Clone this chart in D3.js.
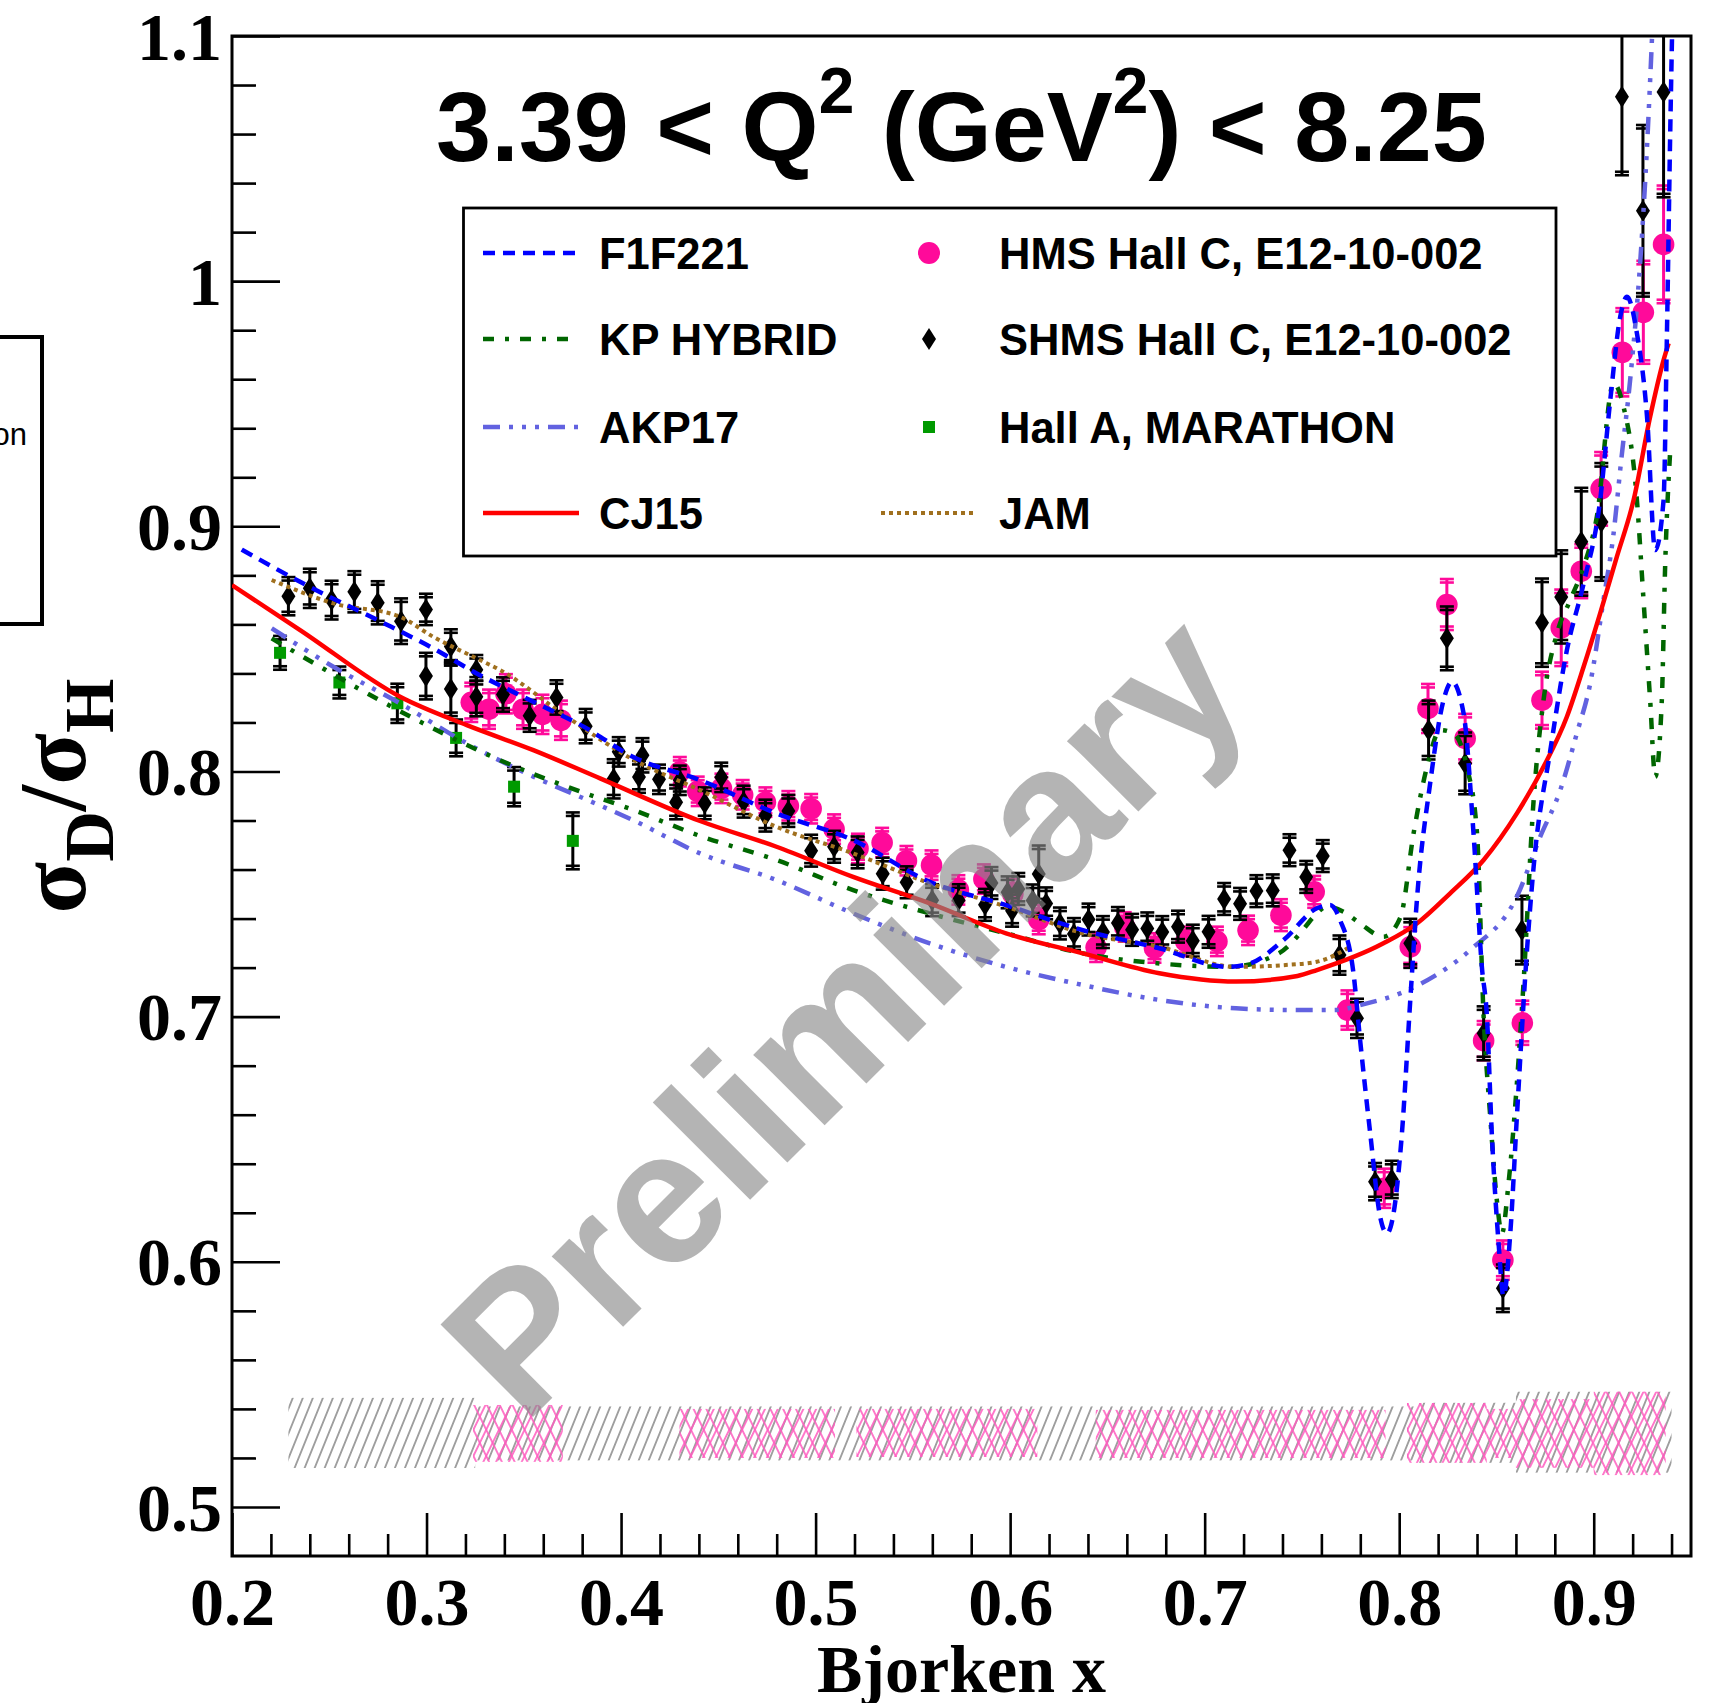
<!DOCTYPE html>
<html><head><meta charset="utf-8">
<script src="https://cdn.jsdelivr.net/npm/d3@7"></script>
<style>body{margin:0;background:#fff;} svg{display:block}</style>
</head><body>
<svg id="c" width="1709" height="1703"></svg>
<script>
// ---------------- DATA ----------------
const xTickValues = [0.2,0.3,0.4,0.5,0.6,0.7,0.8,0.9];
const xTickLabels = ["0.2","0.3","0.4","0.5","0.6","0.7","0.8","0.9"];
const yTickValues = [0.5,0.6,0.7,0.8,0.9,1.0,1.1];
const yTickLabels = ["0.5","0.6","0.7","0.8","0.9","1","1.1"];

// SHMS Hall C, E12-10-002
const shmsX = [0.229,0.240,0.2512,0.2629,0.2749,0.2869,0.2997,0.2997,0.3125,0.3125,0.3256,0.3256,0.3393,0.3530,0.3668,0.3818,0.3988,0.3962,0.4110,0.4092,0.4195,0.4283,0.4302,0.4430,0.4515,0.4630,0.4742,0.4860,0.4977,0.5095,0.5216,0.5345,0.5468,0.5599,0.5735,0.5871,0.5904,0.5987,0.6010,0.6042,0.6116,0.6147,0.6185,0.6256,0.6328,0.6403,0.6477,0.6554,0.6627,0.6705,0.6782,0.6863,0.6939,0.7020,0.7100,0.7182,0.7266,0.7350,0.7436,0.7522,0.7607,0.7693,0.7783,0.7876,0.7962,0.8057,0.8151,0.8245,0.8339,0.8434,0.8533,0.8631,0.8734,0.8833,0.8936,0.9039,0.9145,0.9253,0.9359];
const shmsY = [0.8715,0.8747,0.8699,0.8733,0.8688,0.8613,0.8661,0.8389,0.8510,0.8336,0.8415,0.8305,0.8314,0.8227,0.8302,0.8185,0.8080,0.7970,0.8066,0.7978,0.7968,0.7875,0.7964,0.7870,0.7976,0.7877,0.7820,0.7839,0.7677,0.7693,0.7670,0.7583,0.7548,0.7475,0.7475,0.7456,0.7545,0.7507,0.7432,0.7521,0.7474,0.7582,0.7462,0.7380,0.7337,0.7396,0.7345,0.7382,0.7354,0.7360,0.7345,0.7367,0.7310,0.7346,0.7480,0.7460,0.7512,0.7515,0.7679,0.7570,0.7655,0.7251,0.6993,0.6327,0.6336,0.7299,0.8169,0.8543,0.8033,0.6932,0.5892,0.7353,0.8607,0.8712,0.8937,0.9018,1.0752,1.0287,1.0772];
const shmsErr = [0.0078,0.0080,0.0079,0.0084,0.0088,0.0093,0.0064,0.0095,0.0070,0.0110,0.0060,0.0080,0.0070,0.0065,0.0070,0.0070,0.0060,0.0080,0.0070,0.0065,0.0060,0.0070,0.0060,0.0065,0.0060,0.0065,0.0065,0.0065,0.0065,0.0065,0.0065,0.0065,0.0065,0.0065,0.0065,0.0065,0.0065,0.0065,0.0065,0.0065,0.0065,0.0116,0.0065,0.0065,0.0065,0.0065,0.0065,0.0065,0.0065,0.0065,0.0065,0.0065,0.0065,0.0065,0.0065,0.0065,0.0065,0.0065,0.0065,0.0065,0.0065,0.0080,0.0080,0.0076,0.0076,0.0100,0.0120,0.0130,0.0126,0.0110,0.0097,0.0140,0.0180,0.0190,0.0220,0.0240,0.0320,0.0350,0.0430];

// HMS Hall C, E12-10-002
const hmsX = [0.3230,0.3321,0.3408,0.3496,0.3596,0.3691,0.4302,0.4394,0.4516,0.4625,0.4742,0.4860,0.4977,0.5095,0.5218,0.5342,0.5467,0.5596,0.5734,0.5865,0.6014,0.6147,0.6442,0.6589,0.6742,0.6903,0.7063,0.7223,0.7392,0.7563,0.7734,0.7923,0.8057,0.8148,0.8245,0.8339,0.8434,0.8533,0.8633,0.8734,0.8833,0.8936,0.9038,0.9147,0.9255,0.9359];
const hmsY = [0.8282,0.8254,0.8317,0.8254,0.8233,0.8209,0.7999,0.7919,0.7931,0.7905,0.7875,0.7860,0.7848,0.7765,0.7686,0.7710,0.7636,0.7618,0.7517,0.7561,0.7500,0.7396,0.7283,0.7366,0.7280,0.7307,0.7307,0.7352,0.7414,0.7509,0.7027,0.6300,0.7285,0.8257,0.8681,0.8135,0.6902,0.6007,0.6975,0.8291,0.8586,0.8817,0.9153,0.9710,0.9873,1.0150];
const hmsErr = [0.0080,0.0080,0.0080,0.0080,0.0080,0.0080,0.0060,0.0060,0.0060,0.0060,0.0060,0.0060,0.0060,0.0060,0.0060,0.0060,0.0060,0.0060,0.0060,0.0060,0.0060,0.0060,0.0060,0.0060,0.0060,0.0060,0.0060,0.0060,0.0065,0.0065,0.0080,0.0080,0.0080,0.0100,0.0104,0.0100,0.0080,0.0080,0.0090,0.0116,0.0156,0.0110,0.0150,0.0180,0.0210,0.0240];

// Hall A, MARATHON
const hallAX = [0.2247,0.2552,0.2850,0.3152,0.3450,0.3752];
const hallAY = [0.8484,0.8363,0.8278,0.8137,0.7938,0.7717];
const hallAErr = [0.0069,0.0065,0.0080,0.0075,0.0080,0.0116];

// Models
const f1f221X = [0.205,0.240,0.275,0.3035,0.3258,0.355,0.381,0.406,0.4406,0.4799,0.5193,0.5587,0.5979,0.6374,0.6767,0.7121,0.7234,0.7405,0.7577,0.7645,0.7696,0.7765,0.7799,0.7851,0.7902,0.7937,0.7971,0.8014,0.8057,0.8091,0.8159,0.8228,0.8271,0.8331,0.8382,0.8425,0.8451,0.8476,0.8511,0.8536,0.8571,0.8605,0.8657,0.8691,0.8777,0.8862,0.8948,0.9033,0.9085,0.9136,0.9171,0.9222,0.9274,0.9316,0.9359,0.9376,0.9393,0.9405];
const f1f221Y = [0.8905,0.8753,0.8617,0.8502,0.8400,0.8284,0.8182,0.8060,0.7965,0.7829,0.7720,0.7550,0.7455,0.7353,0.7279,0.7203,0.7217,0.7312,0.7442,0.7455,0.7394,0.7177,0.6905,0.6524,0.6184,0.6116,0.6198,0.6524,0.7068,0.7476,0.7951,0.8291,0.8366,0.8237,0.7748,0.7203,0.7000,0.6524,0.6075,0.5860,0.6116,0.6592,0.7272,0.7611,0.8087,0.8495,0.8767,0.9107,0.9515,0.9854,0.9936,0.9787,0.9447,0.8903,0.9107,0.9770,1.0600,1.1100];

const kpX = [0.2204,0.2572,0.2950,0.3378,0.3721,0.4063,0.4406,0.4799,0.5193,0.5587,0.5979,0.6374,0.6767,0.7121,0.7380,0.7491,0.7560,0.7628,0.7714,0.7799,0.7919,0.8007,0.8074,0.8143,0.8211,0.8280,0.8348,0.8400,0.8434,0.8468,0.8502,0.8528,0.8562,0.8605,0.8639,0.8691,0.8742,0.8811,0.8879,0.8948,0.9016,0.9102,0.9153,0.9222,0.9256,0.9290,0.9316,0.9350,0.9367,0.9393];
const kpY = [0.8543,0.8373,0.8210,0.8046,0.7938,0.7843,0.7737,0.7639,0.7516,0.7421,0.7340,0.7258,0.7217,0.7203,0.7258,0.7340,0.7407,0.7449,0.7428,0.7380,0.7326,0.7407,0.7748,0.8019,0.8169,0.8155,0.8019,0.7748,0.7000,0.6592,0.6251,0.6116,0.6320,0.6728,0.7136,0.7883,0.8291,0.8563,0.8699,0.8835,0.9039,0.9583,0.9488,0.9107,0.8699,0.8291,0.7979,0.8291,0.8835,0.9307];

const akpX = [0.2204,0.2521,0.2864,0.3207,0.3549,0.3806,0.4063,0.4406,0.4799,0.5193,0.5587,0.5979,0.6374,0.6767,0.7161,0.7491,0.7663,0.7834,0.8005,0.8176,0.8365,0.8605,0.8725,0.8828,0.8913,0.8982,0.9050,0.9102,0.9140,0.9190,0.9240,0.9274,0.9300];
const akpY = [0.8584,0.8427,0.8278,0.8115,0.7979,0.7891,0.7801,0.7666,0.7557,0.7421,0.7299,0.7203,0.7129,0.7068,0.7034,0.7027,0.7027,0.7054,0.7095,0.7163,0.7272,0.7490,0.7734,0.7924,0.8155,0.8359,0.8699,0.8971,0.9260,0.9620,1.0090,1.0550,1.1000];

const cj15X = [0.2,0.235,0.2864,0.3207,0.3549,0.3892,0.4406,0.4799,0.5193,0.5587,0.5979,0.6374,0.6767,0.7161,0.7477,0.7577,0.7919,0.8091,0.8262,0.8434,0.8605,0.8742,0.8862,0.8948,0.9033,0.9119,0.9205,0.9290,0.9359,0.9385];
const cj15Y = [0.8760,0.8577,0.8305,0.8189,0.8087,0.7972,0.7798,0.7693,0.7570,0.7462,0.7340,0.7258,0.7177,0.7143,0.7166,0.7190,0.7299,0.7380,0.7503,0.7639,0.7829,0.8019,0.8223,0.8427,0.8645,0.8876,0.9107,0.9447,0.9678,0.9746];

const jamX = [0.2204,0.2521,0.2864,0.3035,0.3258,0.3378,0.3721,0.4063,0.4406,0.4799,0.5193,0.5587,0.5979,0.6374,0.6767,0.7161,0.7405,0.7577,0.7748];
const jamY = [0.8781,0.8686,0.8631,0.8549,0.8461,0.8414,0.8223,0.8048,0.7924,0.7774,0.7666,0.7544,0.7449,0.7340,0.7285,0.7203,0.7210,0.7224,0.7285];

// systematic bands
const shmsBandX0 = [0.229,0.325,0.81,0.86];
const shmsBandX1 = [0.325,0.81,0.86,0.94];
const shmsBandLo = [0.5159,0.519,0.518,0.514];
const shmsBandHi = [0.5445,0.541,0.5425,0.547];
const hmsBandX0 = [0.324,0.430,0.521,0.644,0.804,0.845,0.860,0.900];
const hmsBandX1 = [0.370,0.510,0.614,0.793,0.845,0.860,0.900,0.937];
const hmsBandLo = [0.5184,0.520,0.5204,0.520,0.518,0.520,0.516,0.513];
const hmsBandHi = [0.5416,0.540,0.540,0.5396,0.5424,0.540,0.544,0.547];

const legendLeftNames = ["F1F221","KP HYBRID","AKP17","CJ15"];
const legendRightNames = ["HMS Hall C, E12-10-002","SHMS Hall C, E12-10-002","Hall A, MARATHON","JAM"];

// ---------------- DRAW ----------------
const svg = d3.select('#c');
const x = d3.scaleLinear().domain([0.2,0.95]).range([232,1691]);
const y = d3.scaleLinear().domain([0.48,1.1]).range([1556,36]);

const C = {
  f1: '#0000ff', kp: '#006600', akp: '#6262e0', cj: '#ff0000', jam: '#a0701e',
  hms: '#ff0a9a', shms: '#000000', hallA: '#009a00'
};
const STY = {
  f1: {c:C.f1, w:4.5, d:'12,8'},
  kp: {c:C.kp, w:4.5, d:'11,11,4,11'},
  akp:{c:C.akp, w:4.5, d:'17,9,4,9,4,9,4,9'},
  cj: {c:C.cj, w:4.5, d:null},
  jam:{c:C.jam, w:4, d:'4,4'}
};

const defs = svg.append('defs');
defs.append('clipPath').attr('id','frameclip').append('rect')
  .attr('x', x(0.2)).attr('y', y(1.1)).attr('width', x(0.95)-x(0.2)).attr('height', y(0.48)-y(1.1));
function hatch(id, color, rot, sp, w){
  const p = defs.append('pattern').attr('id', id).attr('patternUnits','userSpaceOnUse')
    .attr('width', sp).attr('height', 20).attr('patternTransform', `rotate(${rot})`);
  p.append('line').attr('x1', sp/2).attr('x2', sp/2).attr('y1', 0).attr('y2', 20)
    .attr('stroke', color).attr('stroke-width', w);
}
hatch('gh', '#8e8e8e', 22, 9.3, 1.6);
hatch('ph1', '#ff5cc0', 26, 11.5, 1.6);
hatch('ph2', '#ff5cc0', -26, 11.5, 1.6);

// bands
const bandG = svg.append('g');
shmsBandX0.forEach((x0,i)=>{
  bandG.append('rect').attr('x', x(x0)).attr('width', x(shmsBandX1[i])-x(x0))
    .attr('y', y(shmsBandHi[i])).attr('height', y(shmsBandLo[i])-y(shmsBandHi[i]))
    .attr('fill','url(#gh)');
});
hmsBandX0.forEach((x0,i)=>{
  ['ph1','ph2'].forEach(pid=>{
    bandG.append('rect').attr('x', x(x0)).attr('width', x(hmsBandX1[i])-x(x0))
      .attr('y', y(hmsBandHi[i])).attr('height', y(hmsBandLo[i])-y(hmsBandHi[i]))
      .attr('fill',`url(#${pid})`);
  });
});

// axes
const yMinor = d3.range(25,55).map(i=>+(i*0.02).toFixed(2)).filter(v=>!yTickValues.some(t=>Math.abs(t-v)<1e-6));
const xMinor = d3.range(10,48).map(i=>+(i*0.02).toFixed(2)).filter(v=>!xTickValues.some(t=>Math.abs(t-v)<1e-6));

const yAx = svg.append('g').attr('transform',`translate(${x(0.2)},0)`)
  .call(d3.axisLeft(y).tickValues(yTickValues).tickFormat((d,i)=>yTickLabels[i]).tickSize(-48).tickSizeOuter(0).tickPadding(10));
const yAxm = svg.append('g').attr('transform',`translate(${x(0.2)},0)`)
  .call(d3.axisLeft(y).tickValues(yMinor).tickFormat('').tickSize(-24).tickSizeOuter(0));
const xAx = svg.append('g').attr('transform',`translate(0,${y(0.48)})`)
  .call(d3.axisBottom(x).tickValues(xTickValues).tickFormat((d,i)=>xTickLabels[i]).tickSize(-43).tickSizeOuter(0).tickPadding(21));
const xAxm = svg.append('g').attr('transform',`translate(0,${y(0.48)})`)
  .call(d3.axisBottom(x).tickValues(xMinor).tickFormat('').tickSize(-22).tickSizeOuter(0));
[yAx,yAxm,xAx,xAxm].forEach(g=>{
  g.select('.domain').remove();
  g.selectAll('line').attr('stroke','#000').attr('stroke-width',2.6);
  g.selectAll('text').attr('font-family','"Liberation Serif", "Times New Roman", serif')
    .attr('font-weight','bold').attr('font-size',68).attr('fill','#000');
});
yAx.selectAll('text').attr('dy','0.34em');

// frame
svg.append('rect').attr('x', x(0.2)).attr('y', y(1.1)).attr('width', x(0.95)-x(0.2)).attr('height', y(0.48)-y(1.1))
  .attr('fill','none').attr('stroke','#000').attr('stroke-width',3);

const plot = svg.append('g').attr('clip-path','url(#frameclip)');

// data points with error bars
function errbars(g, xs, ys, es, color){
  const cap = 7;
  xs.forEach((xv,i)=>{
    const px = x(xv), y1 = y(ys[i]-es[i]), y2 = y(ys[i]+es[i]);
    g.append('line').attr('x1',px).attr('x2',px).attr('y1',y1).attr('y2',y2).attr('stroke',color).attr('stroke-width',3);
    [[y1,-3.5],[y2,3.5]].forEach(([yy,off])=>{
      g.append('line').attr('x1',px-cap).attr('x2',px+cap).attr('y1',yy).attr('y2',yy).attr('stroke',color).attr('stroke-width',2.6);
      g.append('line').attr('x1',px-cap).attr('x2',px+cap).attr('y1',yy+off).attr('y2',yy+off).attr('stroke',color).attr('stroke-width',2.6);
    });
  });
}
const ptsG = plot.append('g');
errbars(ptsG, hallAX, hallAY, hallAErr, '#000');
hallAX.forEach((xv,i)=>{
  ptsG.append('rect').attr('x',x(xv)-6).attr('y',y(hallAY[i])-6).attr('width',12).attr('height',12).attr('fill',C.hallA);
});
errbars(ptsG, hmsX, hmsY, hmsErr, C.hms);
hmsX.forEach((xv,i)=>{
  ptsG.append('circle').attr('cx',x(xv)).attr('cy',y(hmsY[i])).attr('r',10.8).attr('fill',C.hms);
});
errbars(ptsG, shmsX, shmsY, shmsErr, '#000');
const diamond = 'M0,-11L7,0L0,11L-7,0Z';
shmsX.forEach((xv,i)=>{
  ptsG.append('path').attr('d',diamond).attr('transform',`translate(${x(xv)},${y(shmsY[i])})`).attr('fill','#000');
});

// model curves
const lineGen = d3.line().x(d=>x(d[0])).y(d=>y(d[1])).curve(d3.curveMonotoneX);
function curve(xs, ys, s){
  plot.append('path').datum(xs.map((v,i)=>[v,ys[i]])).attr('d',lineGen)
    .attr('fill','none').attr('stroke',s.c).attr('stroke-width',s.w)
    .attr('stroke-dasharray', s.d).attr('stroke-linejoin','round');
}
curve(akpX, akpY, STY.akp);
curve(kpX, kpY, STY.kp);
curve(jamX, jamY, STY.jam);
curve(cj15X, cj15Y, STY.cj);
curve(f1f221X, f1f221Y, STY.f1);

// watermark
svg.append('text').attr('transform','translate(890,1060) rotate(-45)')
  .attr('text-anchor','middle').attr('font-family','"Liberation Sans", Arial, sans-serif')
  .attr('font-weight','bold').attr('font-size',190).attr('fill','#8a8a8a').attr('fill-opacity',0.64)
  .text('Preliminary');

// title
const title = svg.append('text').attr('x', (x(0.2)+x(0.95))/2).attr('y',161).attr('text-anchor','middle')
  .attr('font-family','"Liberation Sans", Arial, sans-serif').attr('font-weight','bold').attr('font-size',99).attr('fill','#000');
title.append('tspan').text('3.39 < Q');
title.append('tspan').attr('dy',-48).attr('font-size',64).text('2');
title.append('tspan').attr('dy',48).text(' (GeV');
title.append('tspan').attr('dy',-48).attr('font-size',64).text('2');
title.append('tspan').attr('dy',48).text(') < 8.25');

// legend
const lg = svg.append('g');
lg.append('rect').attr('x',463.5).attr('y',208).attr('width',1556-463.5).attr('height',556-208)
  .attr('fill','#fff').attr('stroke','#000').attr('stroke-width',2.8);
const rowY = [253, 339, 427, 513];
const leftStyles = [STY.f1, STY.kp, STY.akp, STY.cj];
legendLeftNames.forEach((n,i)=>{
  const s = leftStyles[i];
  lg.append('line').attr('x1',483).attr('x2',579).attr('y1',rowY[i]).attr('y2',rowY[i])
    .attr('stroke',s.c).attr('stroke-width',s.w).attr('stroke-dasharray',s.d);
  lg.append('text').attr('x',599).attr('y',rowY[i]+16).text(n);
});
legendRightNames.forEach((n,i)=>{
  lg.append('text').attr('x',999).attr('y',rowY[i]+16).text(n);
});
lg.selectAll('text').attr('font-family','"Liberation Sans", Arial, sans-serif').attr('font-weight','bold')
  .attr('font-size',43.5).attr('fill','#000');
lg.append('circle').attr('cx',929).attr('cy',rowY[0]).attr('r',11).attr('fill',C.hms);
lg.append('path').attr('d',diamond).attr('transform',`translate(929,${rowY[1]})`).attr('fill','#000');
lg.append('rect').attr('x',923).attr('y',rowY[2]-6).attr('width',12).attr('height',12).attr('fill',C.hallA);
lg.append('line').attr('x1',881).attr('x2',977).attr('y1',rowY[3]).attr('y2',rowY[3])
  .attr('stroke',STY.jam.c).attr('stroke-width',STY.jam.w).attr('stroke-dasharray',STY.jam.d);

// axis titles
svg.append('text').attr('x',(x(0.2)+x(0.95))/2).attr('y',1692).attr('text-anchor','middle')
  .attr('font-family','"Liberation Serif", "Times New Roman", serif').attr('font-weight','bold').attr('font-size',68)
  .text('Bjorken x');
const yt = svg.append('text').attr('transform',`translate(85,${(y(0.48)+y(1.1))/2}) rotate(-90)`).attr('text-anchor','middle')
  .attr('font-family','"Liberation Serif", "Times New Roman", serif').attr('font-weight','bold');
yt.append('tspan').attr('font-size',95).text('σ');
yt.append('tspan').attr('font-size',70).attr('dy',28).text('D');
yt.append('tspan').attr('font-size',95).attr('dy',-28).text('/σ');
yt.append('tspan').attr('font-size',70).attr('dy',28).text('H');

// clipped neighbouring legend box at left edge
svg.append('rect').attr('x',-10).attr('y',337).attr('width',52).attr('height',287)
  .attr('fill','none').attr('stroke','#000').attr('stroke-width',4);
svg.append('text').attr('x',27).attr('y',445).attr('text-anchor','end')
  .attr('font-family','"Liberation Sans", Arial, sans-serif').attr('font-size',31).text('on');
</script></body></html>
